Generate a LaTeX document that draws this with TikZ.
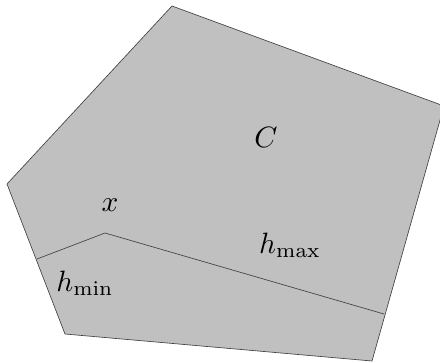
\documentclass[tikz,border=0pt]{standalone}
\begin{document}
\begin{tikzpicture}[x=0.34pt,y=-0.34pt,
  region/.style={fill=polyfill,draw=black!75,line width=0.22pt,line join=miter},
  sep/.style={draw=black!75,line width=0.22pt},
  lbl/.style={inner sep=0pt}]
\definecolor{polyfill}{RGB}{192,192,192}
\useasboundingbox (0,0) rectangle (440,362);
\clip (0,0) rectangle (440,362);
\coordinate (t) at (172,6);
\coordinate (r) at (444,106);
\coordinate (br) at (372,361);
\coordinate (bl) at (65,334);
\coordinate (l) at (7,184);
\coordinate (a) at (37,259);
\coordinate (p) at (105,233);
\coordinate (b) at (384,314);
\path[region] (t) -- (r) -- (br) -- (bl) -- (l) -- cycle;
\draw[sep] (a) -- (p) -- (b);
\node[lbl] (C) at (266,137.5) {$C$};
\node[lbl] (x) at (110,205) {$x$};
\node[lbl] (hmax) at (290,245) {$h_{\max}$};
\node[lbl] (hmin) at (85,283) {$h_{\min}$};
\end{tikzpicture}
\end{document}
